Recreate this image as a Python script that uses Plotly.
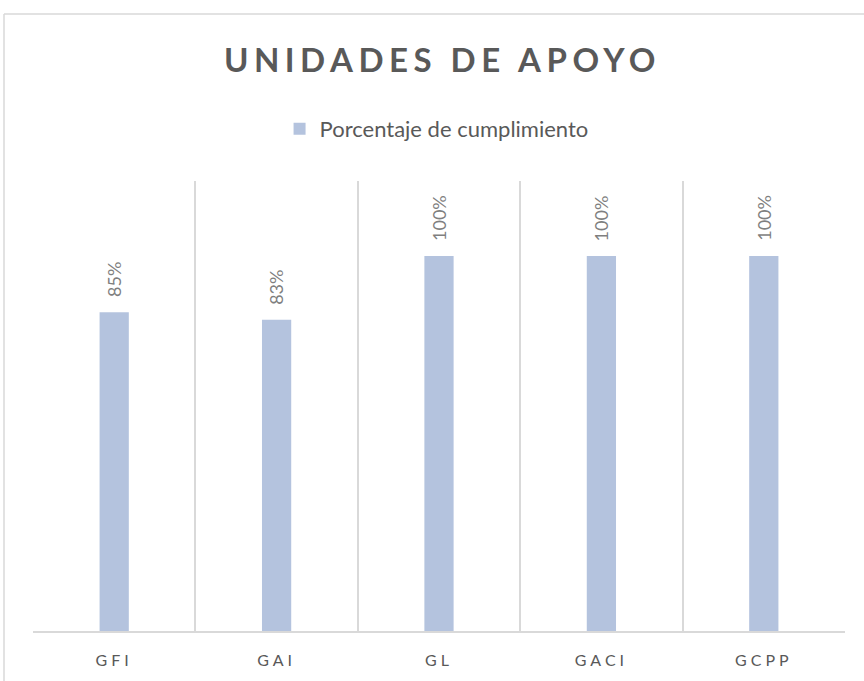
import plotly.graph_objects as go

categories = ["GFI", "GAI", "GL", "GACI", "GCPP"]
values = [0.85, 0.83, 1.00, 1.00, 1.00]
series_name = "Porcentaje de cumplimiento"
title_text = "UNIDADES DE APOYO"

BAR_COLOR = "#B4C3DE"
GRID = "#D9D9D9"
FONT = "Lato"

ticktext = [f"<span style='letter-spacing:4px'>{c}</span>" for c in categories]

fig = go.Figure()
fig.add_trace(go.Bar(
    x=categories, y=values, name=series_name,
    marker=dict(color=BAR_COLOR, line=dict(width=0)),
    width=0.18, showlegend=True,
))

for c, v in zip(categories, values):
    fig.add_annotation(
        x=c, y=v, text=f"{round(v*100)}%", textangle=-90,
        showarrow=False, xanchor="center", yanchor="bottom", yshift=13,
        font=dict(family=FONT, size=18, color="#7F7F7F"),
    )

fig.update_layout(
    width=864, height=681,
    margin=dict(l=33, r=19, t=181, b=50),
    paper_bgcolor="white", plot_bgcolor="white",
    font=dict(family=FONT, color="#595959"),
    title=dict(
        text=f"<span style='letter-spacing:5.5px'><b>{title_text}</b></span>",
        x=0.512, xanchor="center", xref="container",
        y=1 - 60/681, yanchor="middle", yref="container",
        font=dict(family=FONT, size=33, color="#595959"),
    ),
    legend=dict(
        orientation="h", x=0.497, xanchor="center", y=(631-129)/450, yanchor="middle",
        font=dict(family=FONT, size=22, color="#595959"),
        itemwidth=30, bgcolor="rgba(0,0,0,0)",
    ),
    xaxis=dict(
        type="category", range=[-0.5, 4.5], tickson="boundaries",
        showgrid=True, gridcolor=GRID, gridwidth=1.5,
        showline=True, linecolor=GRID, linewidth=1.5,
        ticks="", tickvals=categories, ticktext=ticktext,
        ticklabelstandoff=14,
        tickfont=dict(family=FONT, size=16, color="#595959"),
        zeroline=False, fixedrange=True,
    ),
    yaxis=dict(
        range=[0, 1.2], showgrid=False, showline=False, showticklabels=False,
        zeroline=False, ticks="", fixedrange=True,
    ),
    shapes=[
        dict(type="line", xref="paper", yref="paper", x0=-29/812, x1=1.03,
             y0=(631-14)/450, y1=(631-14)/450, line=dict(color=GRID, width=1.5)),
        dict(type="line", xref="paper", yref="paper", x0=-29/812, x1=-29/812,
             y0=(631-14)/450, y1=-60/450, line=dict(color=GRID, width=1.5)),
    ],
)

fig.write_html("out.html", config={"displayModeBar": False},
               post_script="document.body.style.margin='0px';")
